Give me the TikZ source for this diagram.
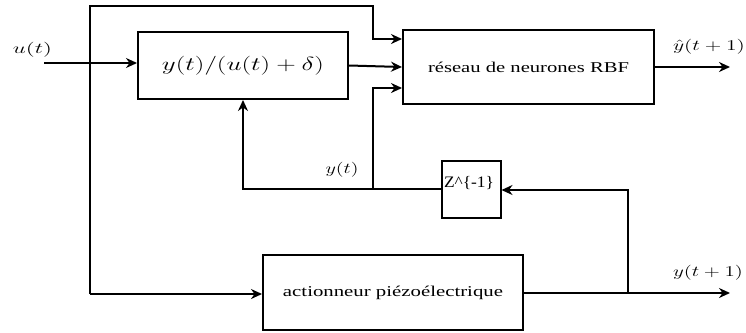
\RequirePackage{fix-cm}
\documentclass[tikz,border=0pt]{standalone}
\usepackage{fontspec}
\setmainfont{Liberation Serif}
\usetikzlibrary{arrows.meta}
% set a label to a given width, keeping its height
\newcommand\fitw[2]{\resizebox{#1}{\height}{#2}}

\begin{document}
\begin{tikzpicture}[x=1pt,y=-1pt,line width=2pt,
  block/.style={draw,rectangle,inner sep=0pt,font=\fontsize{15}{18}\selectfont},
  wire/.style={-{Stealth[length=11pt,width=10pt]}},
  lbl/.style={inner sep=0pt,font=\fontsize{15}{18}\selectfont}]
\useasboundingbox (0,0) rectangle (746,332);

% blocks
\node[block,minimum width=210pt,minimum height=67pt,font=\fontsize{19}{22}\selectfont]
  (ratio) at (243,65.5) {\fitw{162pt}{$y(t)/(u(t)+\delta)$}};
\node[block,minimum width=251pt,minimum height=74pt] (rbf) at (528.5,67)
  {\fitw{201pt}{réseau de neurones RBF}};
\node[block,minimum width=59pt,minimum height=57pt] (zdel) at (471,189.5) {};
\node[lbl,font=\fontsize{16}{18}\selectfont] (zlbl) at (469,183)
  {\fitw{50pt}{Z\^{}\{-1\}}};
\node[block,minimum width=260pt,minimum height=75pt] (act) at (393,292.5)
  {\fitw{220pt}{actionneur piézoélectrique}};

% junction and end points
\coordinate (uin) at (44,63);
\coordinate (utop) at (90,6);
\coordinate (ubot) at (90,294);
\coordinate (ttop) at (373,6);
\coordinate (tin) at (373,39);
\coordinate (ysplit) at (373,189);
\coordinate (yin) at (373,88);
\coordinate (ycorner) at (243,189);
\coordinate (ybranch) at (628,293);
\coordinate (yret) at (628,190);
\coordinate (yout) at (730,293);
\coordinate (yhat) at (730,67);

% input u(t)
\draw[wire] (uin) -- (uin -| ratio.west);
\node[lbl] (ulbl) at (32.5,50) {\fitw{39pt}{$u(t)$}};

% u(t) routed to the network and to the actuator
\draw[wire] (ubot) -- (utop) -- (ttop) -- (tin) -- (tin -| rbf.west);
\draw[wire] (ubot) -- (ubot -| act.west);

% ratio output to the network
\draw[wire] (ratio.east) -- (rbf.west);

% network output
\draw[wire] (rbf.east) -- (yhat);
\node[lbl] (yhatlbl) at (709,47) {\fitw{72pt}{$\hat{y}(t+1)$}};

% actuator output and its feedback through the delay
\draw[wire] (act.east |- ybranch) -- (yout);
\node[lbl] (ynextlbl) at (708,273) {\fitw{70pt}{$y(t+1)$}};
\draw[wire] (ybranch) -- (yret) -- (yret -| zdel.east);
\draw[wire] (zdel.west |- ycorner) -- (ycorner) -- (ycorner |- ratio.south);
\draw[wire] (ysplit) -- (yin) -- (yin -| rbf.west);
\node[lbl] (ylbl) at (342,170) {\fitw{33pt}{$y(t)$}};
\end{tikzpicture}
\end{document}
